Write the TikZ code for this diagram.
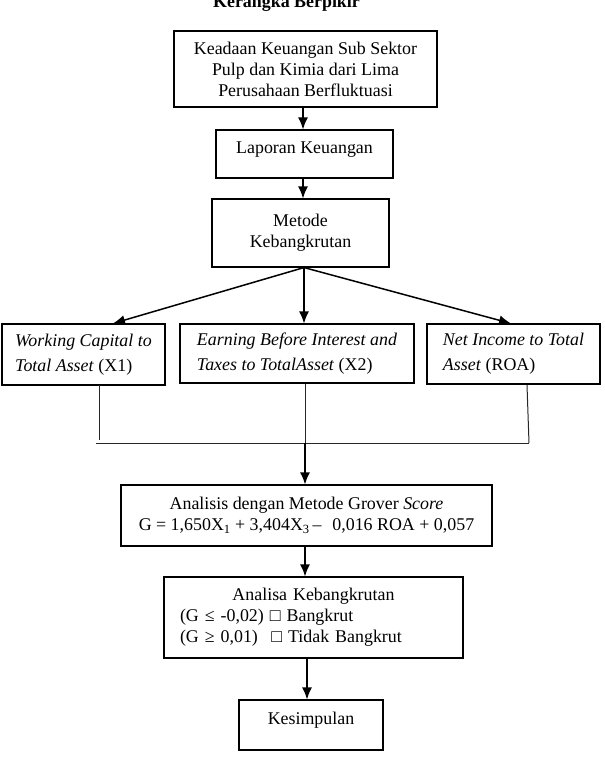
\documentclass[tikz,border=0pt]{standalone}
\usepackage{fontspec}
\setmainfont{Liberation Serif}
\usetikzlibrary{arrows.meta}
\usetikzlibrary{math}
\tikzset{
	kotak/.style={draw, line width=1.1pt, align=center, inner sep=0pt, font=\fontsize{17.9}{21}\selectfont},
	kotakmiring/.style={kotak, align=left, font=\fontsize{17.9}{25}\selectfont},
	panah/.style={line width=1.5pt, -{Latex[length=12pt,width=10pt]}},
	garis/.style={line width=1pt, draw=black!85},
}

\begin{document}
\begin{tikzpicture}[x=1pt,y=-1pt]
	\tikzmath{\sumbu=303; \tengah=305; \bawah=307; \gy=443;
	\ujungA=113; \ujungB=304; \ujungC=511;
	\vA=99; \vC=527;}
	\useasboundingbox (0,0) rectangle (605,763);
	\node[anchor=base, font=\fontsize{17.9}{21}\selectfont\bfseries] (judul) at (286.5,7) {Kerangka Berpikir};

	\node[kotak, minimum width=263pt, minimum height=76pt] (keadaan) at (305.5,69)
	{Keadaan Keuangan Sub Sektor\\Pulp dan Kimia dari Lima\\Perusahaan Berfluktuasi};
	\node[kotak, minimum width=177pt, minimum height=48pt] (laporan) at (304.5,154)
	{\raisebox{4pt}[\height][\depth]{Laporan Keuangan}};
	\node[kotak, minimum width=177pt, minimum height=68pt] (metode) at (300.5,233) {Metode\\Kebangkrutan};

	\node[kotakmiring, minimum width=163pt, minimum height=61pt] (wcta) at (83.5,354.5)
	{\textit{Working Capital to}\\\textit{Total Asset} (X1)};
	\node[kotakmiring, minimum width=234pt, minimum height=59pt] (ebit) at (297,353.5)
	{\textit{Earning Before Interest and}\\\textit{Taxes to TotalAsset} (X2)};
	\node[kotakmiring, minimum width=173pt, minimum height=60pt] (nita) at (513.5,354)
	{\textit{Net Income to Total}\\\textit{Asset} (ROA)};

	\node[kotak, minimum width=371pt, minimum height=61pt] (grover) at (306.5,515.5)
	{Analisis dengan Metode Grover \textit{Score}\\
	G = 1,650X\textsubscript{1} + 3,404X\textsubscript{3}\,–\hspace{0.6em}0,016 ROA + 0,057};
	\node[kotak, align=left, text width=267pt, inner xsep=16pt, minimum height=81pt] (analisa) at (313.5,617.5)
	{\makebox[267pt][c]{Analisa Kebangkrutan}\\
	(G ≤ -0,02) □ Bangkrut\\
	(G ≥ 0,01)\hspace{0.75em}□ Tidak Bangkrut};
	\node[kotak, minimum width=144pt, minimum height=50pt] (simpul) at (311,725)
	{\raisebox{5pt}[\height][\depth]{Kesimpulan}};

	\coordinate (atas) at (\sumbu,0);
	\draw[panah] (atas |- keadaan.south) -- (atas |- laporan.north);
	\draw[panah] (atas |- laporan.south) -- (atas |- metode.north);

	\coordinate (cabang) at (\ujungB,0);
	\coordinate (ujung1) at (\ujungA,0);
	\coordinate (ujung3) at (\ujungC,0);
	\draw[panah] (cabang |- metode.south) -- (ujung1 |- wcta.north);
	\draw[panah] (cabang |- metode.south) -- (cabang |- ebit.north);
	\draw[panah] (cabang |- metode.south) -- (ujung3 |- nita.north);

	\coordinate (kiri) at (96,\gy);
	\coordinate (kanan) at (529,\gy);
	\coordinate (gabung) at (\tengah,\gy);
	\draw[garis] (kiri) -- (kanan);
	\draw[garis] (\vA,385) -- (\vA,440);
	\draw[garis] (gabung |- ebit.south) -- (gabung);
	\draw[garis] (\vC,385) -- (kanan);
	\draw[panah] (gabung) -- (gabung |- grover.north);
	\draw[panah] (gabung |- grover.south) -- (gabung |- analisa.north);

	\coordinate (akhir) at (\bawah,0);
	\draw[panah] (akhir |- analisa.south) -- (akhir |- simpul.north);
\end{tikzpicture}
\end{document}
